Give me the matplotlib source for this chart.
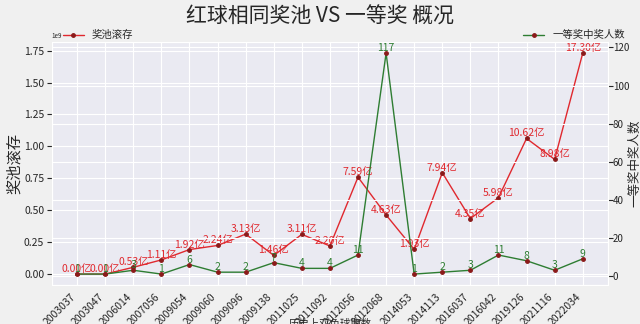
import matplotlib
matplotlib.use("Agg")
import matplotlib.pyplot as plt
import seaborn as sns

periods = ["2003037", "2003047", "2006014", "2007056", "2009054", "2009060", "2009096",
           "2009138", "2011025", "2011092", "2012056", "2012068", "2014053", "2014113",
           "2016037", "2016042", "2019126", "2021116", "2022034"]
pool_yi = [0.00, 0.00, 0.53, 1.11, 1.92, 2.24, 3.13, 1.46, 3.11, 2.20, 7.59, 4.63, 1.93,
           7.94, 4.35, 5.98, 10.62, 8.98, 17.30]
winners = [1, 1, 3, 1, 6, 2, 2, 7, 4, 4, 11, 117, 1, 2, 3, 11, 8, 3, 9]

sns.set_style("darkgrid")
plt.rcParams['font.family'] = ['Noto Sans CJK SC', 'DejaVu Sans']
plt.rcParams['axes.unicode_minus'] = False

fig = plt.figure(figsize=(6.4, 3.24), dpi=100, facecolor="#f0f0f0")
ax1 = fig.add_axes([0.081, 0.120, 0.869, 0.750])
ax2 = ax1.twinx()

x = list(range(len(periods)))
pool = [v * 1e8 for v in pool_yi]

l1, = ax1.plot(x, pool, color="#e0282e", lw=1.0, marker="o", ms=2.5,
               mfc="#8b1a1a", mec="#8b1a1a", label="奖池滚存")
l2, = ax2.plot(x, winners, color="#2e7d32", lw=1.0, marker="o", ms=2.5,
               mfc="#8b1a1a", mec="#8b1a1a", label="一等奖中奖人数")

for xi, v, yv in zip(x, pool_yi, pool):
    ax1.text(xi, yv, f"{v:.2f}亿", color="#e0282e", fontsize=7.5, ha="center", va="bottom")
for xi, w in zip(x, winners):
    ax2.text(xi, w, f"{w}", color="#2e7d32", fontsize=7.5, ha="center", va="bottom")

ax1.set_xticks(x)
ax1.set_xticklabels(periods, rotation=45, fontsize=7.5, ha="right")
ax1.tick_params(axis="x", pad=1)
ax1.tick_params(axis="y", labelsize=7.5, pad=2)
ax2.tick_params(axis="y", labelsize=7, pad=0)
ax1.yaxis.get_offset_text().set_fontsize(4.5)
ax1.set_yticks([0, 0.25e9, 0.5e9, 0.75e9, 1.0e9, 1.25e9, 1.5e9, 1.75e9])
ax1.set_ylabel("奖池滚存", fontsize=11, labelpad=1)
ax2.set_ylabel("一等奖中奖人数", fontsize=9, va="center", ha="center")
ax2.yaxis.set_label_coords(1.0475, 0.5)
ax1.set_xlabel("历史上双色球期数", fontsize=7.5, va="top")
ax1.xaxis.set_label_coords(0.5, -0.137)

ax1.set_title("红球相同奖池 VS 一等奖 概况", fontsize=15, pad=14, x=0.482)

ax1.legend(handles=[l1], loc="lower left", bbox_to_anchor=(0.012, 0.99), frameon=False,
           fontsize=7.5, handlelength=2.0, borderaxespad=0)
ax2.legend(handles=[l2], loc="lower right", bbox_to_anchor=(1.038, 0.99), frameon=False,
           fontsize=7.5, handlelength=2.0, borderaxespad=0)

fig.savefig("out.png", dpi=100, facecolor=fig.get_facecolor())
